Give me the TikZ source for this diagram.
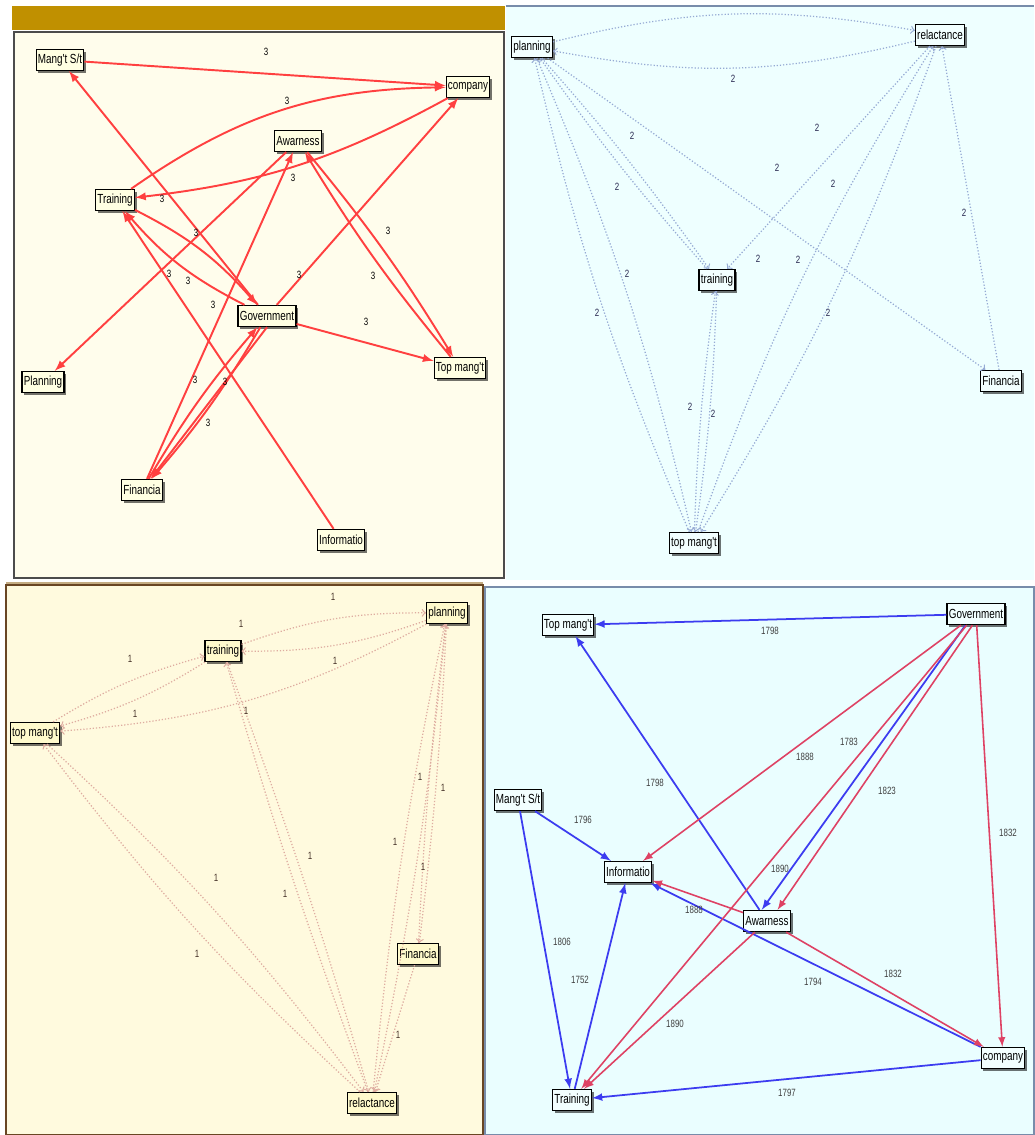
\documentclass[tikz,border=0pt]{standalone}
\usepackage{fontspec}
\setmainfont{Liberation Sans}
\newfontfamily\narrowsf[FakeStretch=0.75]{Liberation Sans}
\usetikzlibrary{shapes,arrows,shadows}
\definecolor{goldbar}{RGB}{192,144,0}
\definecolor{creamA}{RGB}{255,253,236}
\definecolor{cyanA}{RGB}{238,255,255}
\definecolor{creamB}{RGB}{255,250,222}
\definecolor{cyanB}{RGB}{234,254,255}
\definecolor{nodeA}{RGB}{255,255,226}
\definecolor{nodeB}{RGB}{242,255,255}
\definecolor{nodeC}{RGB}{255,250,204}
\definecolor{redline}{RGB}{255,64,64}
\definecolor{dotblue}{RGB}{150,170,212}
\definecolor{dotpink}{RGB}{222,172,160}
\definecolor{netblue}{RGB}{60,60,240}
\definecolor{netred}{RGB}{222,66,100}
\definecolor{labnavy}{RGB}{40,40,80}
\definecolor{labbrown}{RGB}{70,50,40}
\definecolor{panelrim}{RGB}{120,140,170}
\definecolor{tanrim}{RGB}{196,172,130}
\begin{document}
\begin{tikzpicture}[x=0.02cm,y=-0.02cm,
  box/.style={draw=black,line width=0.7pt,fill=#1,inner xsep=1pt,inner ysep=1pt,minimum height=12pt,
    font=\narrowsf\fontsize{7.5}{8}\selectfont,
    drop shadow={shadow xshift=1.3pt,shadow yshift=-1.3pt,fill=black,opacity=0.55}},
  box/.default=white,
  num/.style={font=\narrowsf\fontsize{6}{7}\selectfont,inner sep=0pt,text=#1},
  num/.default=black,
  redarc/.style={draw=redline,line width=1.1pt,->,>=latex},
  bluedot/.style={draw=dotblue,line width=0.7pt,dash pattern=on 0.7pt off 1.1pt,->,>=to},
  pinkdot/.style={draw=dotpink,line width=0.7pt,dash pattern=on 0.7pt off 1.1pt,->,>=to},
  bluearc/.style={draw=netblue,line width=1pt,->,>=latex},
  crimarc/.style={draw=netred,line width=0.9pt,->,>=latex}]
\useasboundingbox (0,0) rectangle (1034,1135);
\fill[white] (0,0) rectangle (1034,1135);
% panels
\fill[goldbar] (12,6) rectangle (505,30);
\filldraw[fill=creamA,draw=black!70,line width=0.8pt] (14,32) rectangle (504,578);
\fill[cyanA] (506,5) rectangle (1034,580);
\draw[panelrim,line width=1.2pt] (506,6) -- (1034,6);
\filldraw[fill=creamB,draw=brown!55!black,line width=0.8pt] (6,585) rectangle (483,1135);
\draw[tanrim,line width=1.5pt] (6,583) -- (483,583);
\filldraw[fill=cyanB,draw=panelrim,line width=0.8pt] (485,587) rectangle (1034,1135);

% panel one
\node[box=nodeA] (mang1) at (60,60) {Mang't S/t};
\node[box=nodeA] (comp1) at (468,87) {company};
\node[box=nodeA] (awar1) at (298,141) {Awarness};
\node[box=nodeA] (train1) at (115,200) {Training};
\node[box=nodeA] (gov1) at (267,316) {Government};
\node[box=nodeA] (plan1) at (43,382) {Planning};
\node[box=nodeA] (top1) at (460,368) {Top mang't};
\node[box=nodeA] (fin1) at (142,490) {Financia};
\node[box=nodeA] (info1) at (341,540) {Informatio};
\draw[redarc] (mang1) -- (comp1);
\draw[redarc] (train1) to[bend left=17] (comp1);
\draw[redarc] (comp1) to[bend left=11] (train1);
\draw[redarc] (gov1) -- (mang1);
\draw[redarc] (awar1) -- (plan1);
\draw[redarc] (fin1) -- (awar1);
\draw[redarc] (gov1) -- (comp1);
\draw[redarc] (awar1) to[bend left=4] (top1);
\draw[redarc] (top1) to[bend left=4] (awar1);
\draw[redarc] (gov1) -- (top1);
\draw[redarc] (train1) to[bend left=11] (gov1);
\draw[redarc] (gov1) to[bend left=11] (train1);
\draw[redarc] (info1) -- (train1);
\draw[redarc] (fin1) to[bend left=5] (gov1);
\draw[redarc] (gov1) to[bend left=5] (fin1);
\draw[redarc] (gov1.south) -- (fin1);
\node[num] (n1a) at (266,52) {3};
\node[num] (n1b) at (287,101) {3};
\node[num] (n1c) at (293,178) {3};
\node[num] (n1d) at (162,199) {3};
\node[num] (n1e) at (196,233) {3};
\node[num] (n1f) at (169,274) {3};
\node[num] (n1g) at (188,281) {3};
\node[num] (n1h) at (213,305) {3};
\node[num] (n1i) at (299,275) {3};
\node[num] (n1j) at (388,231) {3};
\node[num] (n1k) at (373,276) {3};
\node[num] (n1l) at (366,322) {3};
\node[num] (n1m) at (195,380) {3};
\node[num] (n1n) at (225,382) {3};
\node[num] (n1o) at (208,423) {3};

% panel two
\node[box=nodeB] (plan2) at (532,47) {planning};
\node[box=nodeB] (rel2) at (940,35) {relactance};
\node[box=nodeB] (train2) at (717,280) {training};
\node[box=nodeB] (top2) at (694,543) {top mang't};
\node[box=nodeB] (fin2) at (1001,381) {Financia};
\draw[bluedot] (plan2) to[bend left=12] (rel2);
\draw[bluedot] (rel2) to[bend left=12] (plan2);
\draw[bluedot] (plan2) to[bend left=3] (train2);
\draw[bluedot] (train2) to[bend left=3] (plan2);
\draw[bluedot] (rel2) -- (train2);
\draw[bluedot] (plan2) -- (fin2);
\draw[bluedot] (fin2) -- (rel2);
\draw[bluedot] (plan2) to[bend left=5] (top2);
\draw[bluedot] (top2) to[bend left=5] (plan2);
\draw[bluedot] (train2) to[bend left=3] (top2);
\draw[bluedot] (top2) to[bend left=3] (train2);
\draw[bluedot] (rel2) to[bend left=6] (top2);
\draw[bluedot] (top2) to[bend left=6] (rel2);
\node[num=labnavy] (n2a) at (733,79) {2};
\node[num=labnavy] (n2b) at (632,136) {2};
\node[num=labnavy] (n2c) at (817,128) {2};
\node[num=labnavy] (n2d) at (777,168) {2};
\node[num=labnavy] (n2e) at (833,184) {2};
\node[num=labnavy] (n2f) at (617,187) {2};
\node[num=labnavy] (n2g) at (964,213) {2};
\node[num=labnavy] (n2h) at (627,274) {2};
\node[num=labnavy] (n2i) at (758,259) {2};
\node[num=labnavy] (n2j) at (798,260) {2};
\node[num=labnavy] (n2k) at (597,313) {2};
\node[num=labnavy] (n2l) at (828,313) {2};
\node[num=labnavy] (n2m) at (690,407) {2};
\node[num=labnavy] (n2n) at (713,414) {2};

% panel three
\node[box=nodeC] (plan3) at (447,613) {planning};
\node[box=nodeC] (train3) at (223,651) {training};
\node[box=nodeC] (top3) at (35,733) {top mang't};
\node[box=nodeC] (fin3) at (418,954) {Financia};
\node[box=nodeC] (rel3) at (372,1103) {relactance};
\draw[pinkdot] (train3) to[bend left=10] (plan3);
\draw[pinkdot] (plan3) to[bend left=10] (train3);
\draw[pinkdot] (top3) to[bend left=8] (train3);
\draw[pinkdot] (train3) to[bend left=8] (top3);
\draw[pinkdot] (plan3) to[bend left=12] (top3);
\draw[pinkdot] (top3) to[bend left=5] (rel3);
\draw[pinkdot] (rel3) to[bend left=5] (top3);
\draw[pinkdot] (train3) to[bend left=2] (rel3);
\draw[pinkdot] (rel3) to[bend left=2] (train3);
\draw[pinkdot] (plan3) to[bend left=3] (rel3);
\draw[pinkdot] (rel3) to[bend left=3] (plan3);
\draw[pinkdot] (plan3) to[bend left=2] (fin3);
\draw[pinkdot] (fin3) to[bend left=2] (plan3);
\draw[pinkdot] (fin3) -- (rel3);
\node[num=labbrown] (n3a) at (333,597) {1};
\node[num=labbrown] (n3b) at (241,624) {1};
\node[num=labbrown] (n3c) at (130,659) {1};
\node[num=labbrown] (n3d) at (335,661) {1};
\node[num=labbrown] (n3e) at (135,714) {1};
\node[num=labbrown] (n3f) at (246,711) {1};
\node[num=labbrown] (n3g) at (420,777) {1};
\node[num=labbrown] (n3h) at (443,788) {1};
\node[num=labbrown] (n3i) at (310,856) {1};
\node[num=labbrown] (n3j) at (395,842) {1};
\node[num=labbrown] (n3k) at (216,878) {1};
\node[num=labbrown] (n3l) at (285,894) {1};
\node[num=labbrown] (n3m) at (423,867) {1};
\node[num=labbrown] (n3n) at (197,954) {1};
\node[num=labbrown] (n3o) at (398,1035) {1};

% panel four
\node[box=nodeB] (top4) at (568,625) {Top mang't};
\node[box=nodeB] (gov4) at (976,614) {Government};
\node[box=nodeB] (mang4) at (518,800) {Mang't S/t};
\node[box=nodeB] (info4) at (628,872) {Informatio};
\node[box=nodeB] (awar4) at (767,921) {Awarness};
\node[box=nodeB] (comp4) at (1003,1058) {company};
\node[box=nodeB] (train4) at (572,1100) {Training};
\draw[bluearc] (gov4) -- (top4);
\draw[bluearc] (awar4) -- (top4);
\draw[bluearc] (mang4) -- (info4);
\draw[bluearc] (mang4) -- (train4);
\draw[bluearc] (train4) -- (info4);
\draw[bluearc] ([xshift=-6pt]gov4.south) -- ([xshift=-3pt]awar4.north);
\draw[bluearc] (comp4) -- (info4);
\draw[bluearc] (comp4) -- (train4);
\draw[crimarc] (gov4) -- (info4);
\draw[crimarc] (gov4) -- (train4);
\draw[crimarc] ([xshift=-2pt]gov4.south) -- ([xshift=6pt]awar4.north);
\draw[crimarc] (gov4) -- (comp4);
\draw[crimarc] (awar4) -- (info4);
\draw[crimarc] (awar4) -- (train4);
\draw[crimarc] (awar4) -- (comp4);
\node[num=black!75] (n4a) at (770,631) {1798};
\node[num=black!75] (n4b) at (805,757) {1888};
\node[num=black!75] (n4c) at (849,742) {1783};
\node[num=black!75] (n4d) at (887,791) {1823};
\node[num=black!75] (n4e) at (655,783) {1798};
\node[num=black!75] (n4f) at (583,820) {1796};
\node[num=black!75] (n4g) at (1008,833) {1832};
\node[num=black!75] (n4h) at (780,869) {1890};
\node[num=black!75] (n4i) at (694,910) {1888};
\node[num=black!75] (n4j) at (562,942) {1806};
\node[num=black!75] (n4k) at (580,980) {1752};
\node[num=black!75] (n4l) at (813,982) {1794};
\node[num=black!75] (n4m) at (893,974) {1832};
\node[num=black!75] (n4n) at (675,1024) {1890};
\node[num=black!75] (n4o) at (787,1093) {1797};
\end{tikzpicture}
\end{document}
